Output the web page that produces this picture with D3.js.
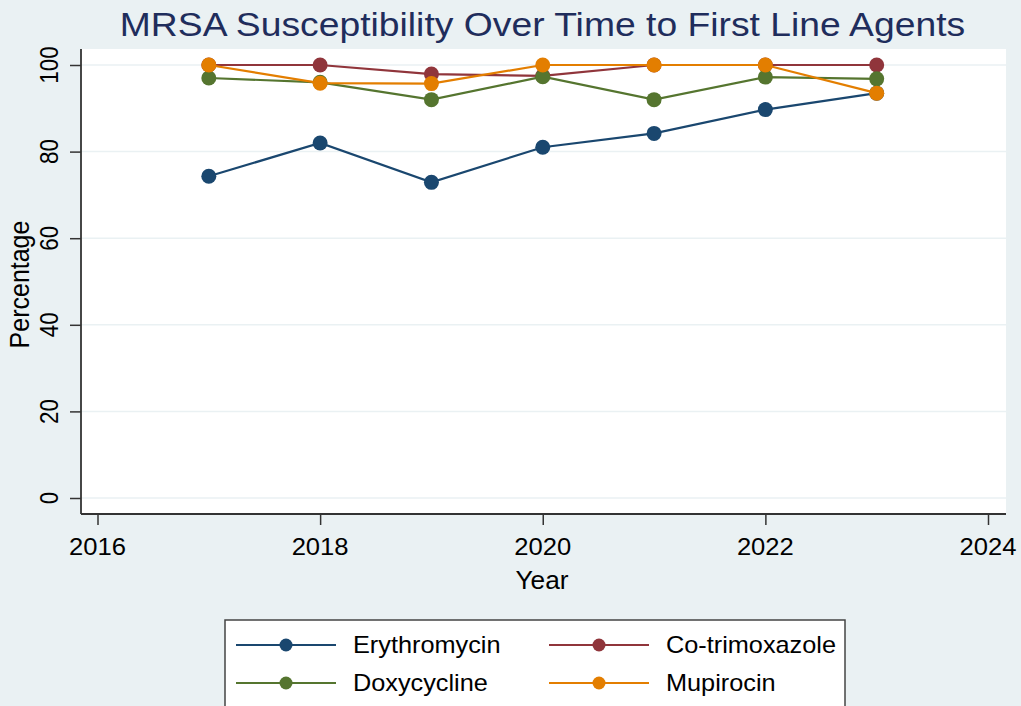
<!DOCTYPE html>
<html><head><meta charset="utf-8">
<script src="https://cdn.jsdelivr.net/npm/d3@7"></script>
<style>html,body{margin:0;padding:0;background:#eaf1f3;}svg{display:block;}</style>
</head><body>
<svg id="chart" width="1021" height="706"></svg>
<script>
const years = [2017, 2018, 2019, 2020, 2021, 2022, 2023];
const seriesNames = ["Erythromycin", "Co-trimoxazole", "Doxycycline", "Mupirocin"];
const erythromycin = [74.3, 82.0, 72.9, 81.0, 84.2, 89.7, 93.5];
const cotrimoxazole = [100, 100, 97.9, 97.5, 100, 100, 100];
const doxycycline = [97.0, 96.0, 92.0, 97.3, 92.0, 97.2, 96.8];
const mupirocin = [100, 95.8, 95.7, 100, 100, 100, 93.5];
const xTicks = [2016, 2018, 2020, 2022, 2024];
const yTicks = [0, 20, 40, 60, 80, 100];
const colors = ["#1a476f", "#90353b", "#55752f", "#e37e00"];
const titleText = "MRSA Susceptibility Over Time to First Line Agents";

const seriesValues = [erythromycin, cotrimoxazole, doxycycline, mupirocin];
const svg = d3.select("#chart");
const FONT = "'Liberation Sans', Arial, Helvetica, sans-serif";

const pLeft = 81, pRight = 1006, pTop = 49, pBottom = 514;
const x = d3.scaleLinear().domain([2016, 2024]).range([97.5, 988]);
const y = d3.scaleLinear().domain([0, 100]).range([498, 65]);

svg.append("rect").attr("width", 1021).attr("height", 706).attr("fill", "#eaf1f3");
svg.append("rect").attr("x", pLeft).attr("y", pTop).attr("width", pRight - pLeft).attr("height", pBottom - pTop).attr("fill", "#ffffff");

function addText(px, py, str, size, anchor, rot, fill, sx) {
  return svg.append("text")
    .attr("transform", `translate(${px},${py}) scale(${sx},1)` + (rot ? ` rotate(${rot})` : ""))
    .attr("text-anchor", anchor)
    .attr("font-family", FONT)
    .attr("font-size", size)
    .attr("fill", fill || "#000")
    .text(str);
}

// gridlines
svg.append("g").selectAll("line").data(yTicks).join("line")
  .attr("x1", pLeft).attr("x2", pRight)
  .attr("y1", d => y(d)).attr("y2", d => y(d))
  .attr("stroke", "#eaf1f3").attr("stroke-width", 1.5);

// y axis
const yAxis = svg.append("g").attr("transform", `translate(${pLeft},0)`)
  .call(d3.axisLeft(y).tickValues(yTicks).tickSize(11).tickFormat(""));
yAxis.select(".domain").remove();
yAxis.selectAll(".tick line").attr("stroke", "#333").attr("stroke-width", 1.5);
svg.append("line").attr("x1", pLeft).attr("x2", pLeft).attr("y1", pTop).attr("y2", pBottom)
  .attr("stroke", "#333").attr("stroke-width", 1.8);
yTicks.forEach(t => addText(58, y(t), String(t), 22.5, "middle", -90, "#000", 1.12));

// x axis
const xAxis = svg.append("g").attr("transform", `translate(0,${pBottom})`)
  .call(d3.axisBottom(x).tickValues(xTicks).tickSize(11).tickFormat(""));
xAxis.select(".domain").remove();
xAxis.selectAll(".tick line").attr("stroke", "#333").attr("stroke-width", 1.5);
svg.append("line").attr("x1", pLeft).attr("x2", pRight).attr("y1", pBottom).attr("y2", pBottom)
  .attr("stroke", "#333").attr("stroke-width", 1.8);
xTicks.forEach(t => addText(x(t), 555, String(t), 23.5, "middle", 0, "#000", 1.09));

// axis titles
addText(542, 589, "Year", 25, "middle", 0, "#000", 1.05);
addText(29, y(50) + 3, "Percentage", 25, "middle", -90, "#000", 1.08);

// title
addText(542.5, 36, titleText, 33, "middle", 0, "#1f2d5c", 1.13);

// series
const line = d3.line().x((d, i) => x(years[i])).y(d => y(d));
seriesValues.forEach((vals, si) => {
  const g = svg.append("g");
  g.append("path").datum(vals).attr("d", line)
    .attr("fill", "none").attr("stroke", colors[si]).attr("stroke-width", 2.2);
  g.selectAll("circle").data(vals).join("circle")
    .attr("cx", (d, i) => x(years[i])).attr("cy", d => y(d)).attr("r", 7.5)
    .attr("fill", colors[si]);
});

// legend
svg.append("rect").attr("x", 225).attr("y", 620).attr("width", 620).attr("height", 95)
  .attr("fill", "#fff").attr("stroke", "#444").attr("stroke-width", 1.5);
const legPos = [[236, 645], [549, 645], [236, 683], [549, 683]];
seriesNames.forEach((name, i) => {
  const [lx, ly] = legPos[i];
  svg.append("line").attr("x1", lx).attr("x2", lx + 100).attr("y1", ly).attr("y2", ly)
    .attr("stroke", colors[i]).attr("stroke-width", 2);
  svg.append("circle").attr("cx", lx + 50).attr("cy", ly).attr("r", 6.5).attr("fill", colors[i]);
  addText(lx + 117, ly + 8, name, 23, "start", 0, "#000", 1.1);
});
</script>
</body></html>
